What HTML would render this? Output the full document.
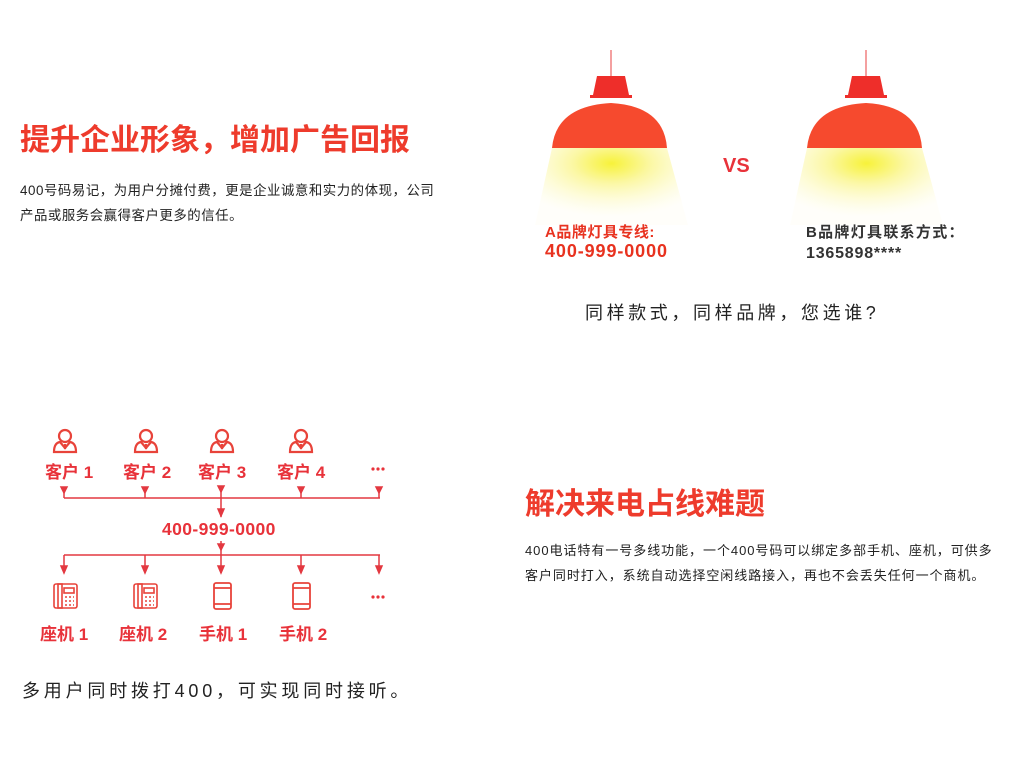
<!DOCTYPE html>
<html><head><meta charset="utf-8"><style>
body{margin:0;width:1023px;height:765px;background:#fff;position:relative;overflow:hidden;font-family:"Liberation Sans","Noto Sans CJK SC",sans-serif}
.a{position:absolute;white-space:nowrap}
.t{color:#ee3b2c;font-weight:bold;font-size:30px;line-height:34px}
.r{color:#e8323a;font-weight:bold}
.lb{font-size:17px}
</style></head><body>
<div class="a t" style="left:20px;top:124px">提升企业形象，增加广告回报</div>
<div class="a" style="left:20px;top:178px;font-size:13.4px;line-height:25px;color:#222;letter-spacing:0.55px">400号码易记，为用户分摊付费，更是企业诚意和实力的体现，公司<br>产品或服务会赢得客户更多的信任。</div>

<svg class="a" style="left:0;top:0" width="1023" height="765">
<defs>
<radialGradient id="g" cx="0.5" cy="0.2" r="0.7"><stop offset="0" stop-color="#f7f23a"/><stop offset="0.35" stop-color="#fbf7a0"/><stop offset="1" stop-color="#fffdf0" stop-opacity="0.3"/></radialGradient>
</defs>
<g id="L">
<line x1="611" y1="50" x2="611" y2="76" stroke="#f08080" stroke-width="1.5"/>
<polygon points="597,76 625,76 629,95 593,95" fill="#ee2e2a"/>
<rect x="590" y="95" width="42" height="3" fill="#ee2e2a"/>
<polygon points="552,148 667,148 688,225 535,225" fill="url(#g)"/>
<path d="M552,148 Q556,106 611,103 Q664,106 667,148 Z" fill="#f64a2e"/>
</g>
<use href="#L" x="255"/>
<line x1="64" y1="498" x2="380" y2="498" stroke="#e33840" stroke-width="1.5"/>
<line x1="64" y1="555" x2="380" y2="555" stroke="#e33840" stroke-width="1.5"/>
<g stroke="#e33840" stroke-width="1.5" fill="#e33840">
<line x1="64" y1="488" x2="64" y2="498"/><polygon points="61,487 67,487 64,493"/>
<line x1="145" y1="488" x2="145" y2="498"/><polygon points="142,487 148,487 145,493"/>
<line x1="301" y1="488" x2="301" y2="498"/><polygon points="298,487 304,487 301,493"/>
<line x1="379" y1="488" x2="379" y2="498"/><polygon points="376,487 382,487 379,493"/>
<line x1="221" y1="486" x2="221" y2="517"/><polygon points="218,486 224,486 221,492"/><polygon points="218,509 224,509 221,516"/>
<line x1="221" y1="541" x2="221" y2="573"/><polygon points="218,544 224,544 221,550"/>
<line x1="64" y1="555" x2="64" y2="572"/><polygon points="61,566 67,566 64,573"/>
<line x1="145" y1="555" x2="145" y2="572"/><polygon points="142,566 148,566 145,573"/>
<polygon points="218,566 224,566 221,573"/>
<line x1="301" y1="555" x2="301" y2="572"/><polygon points="298,566 304,566 301,573"/>
<line x1="379" y1="555" x2="379" y2="572"/><polygon points="376,566 382,566 379,573"/>
</g>
<g id="P" fill="none" stroke="#e8433a" stroke-width="2.2">
<circle cx="65" cy="436" r="6"/><path d="M54,452 Q54,443 60,442 L65,448 L70,442 Q76,443 76,452 Z"/><line x1="65" y1="444" x2="65" y2="449"/>
</g>
<use href="#P" x="81"/><use href="#P" x="157"/><use href="#P" x="236"/>
<g id="T" fill="none" stroke="#e8433a" stroke-width="1.6">
<rect x="54" y="584" width="23" height="24" rx="2"/><rect x="58" y="584" width="4" height="24"/><rect x="64" y="588" width="10" height="5"/>
<path d="M65,597h2M69,597h2M73,597h1M65,601h2M69,601h2M73,601h1M65,605h2M69,605h2M73,605h1"/>
</g>
<use href="#T" x="80"/>
<g id="M" fill="none" stroke="#e8433a" stroke-width="1.8"><rect x="214" y="583" width="17" height="26" rx="2"/><line x1="214" y1="588" x2="231" y2="588"/><line x1="214" y1="604" x2="231" y2="604"/></g>
<use href="#M" x="79"/>
<g fill="#e8323a"><circle cx="373" cy="469" r="1.6"/><circle cx="378" cy="469" r="1.6"/><circle cx="383" cy="469" r="1.6"/>
<circle cx="373" cy="597" r="1.6"/><circle cx="378" cy="597" r="1.6"/><circle cx="383" cy="597" r="1.6"/></g>
</svg>

<div class="a r" style="left:723px;top:155px;font-size:20px">VS</div>
<div class="a r" style="left:545px;top:221px;font-size:15px;color:#e8321f;letter-spacing:0.5px">A品牌灯具专线:</div>
<div class="a r" style="left:545px;top:241px;font-size:18px;color:#e8321f;letter-spacing:0.9px">400-999-0000</div>
<div class="a" style="left:806px;top:221px;font-size:15px;font-weight:bold;color:#333;letter-spacing:1.3px">B品牌灯具联系方式：</div>
<div class="a" style="left:806px;top:245px;font-size:16px;font-weight:bold;color:#333;letter-spacing:0.8px">1365898****</div>
<div class="a" style="left:585px;top:299px;font-size:18px;color:#222;letter-spacing:3.6px">同样款式，同样品牌，您选谁?</div>

<div class="a r lb" style="left:45px;top:458px">客户 1</div>
<div class="a r lb" style="left:123px;top:458px">客户 2</div>
<div class="a r lb" style="left:198px;top:458px">客户 3</div>
<div class="a r lb" style="left:277px;top:458px">客户 4</div>
<div class="a r" style="left:162px;top:519px;font-size:17.5px;letter-spacing:0.4px">400-999-0000</div>
<div class="a r lb" style="left:40px;top:620px">座机 1</div>
<div class="a r lb" style="left:119px;top:620px">座机 2</div>
<div class="a r lb" style="left:199px;top:620px">手机 1</div>
<div class="a r lb" style="left:279px;top:620px">手机 2</div>
<div class="a" style="left:22px;top:677px;font-size:18px;color:#222;letter-spacing:3.8px">多用户同时拨打400，可实现同时接听。</div>

<div class="a t" style="left:525px;top:488px">解决来电占线难题</div>
<div class="a" style="left:525px;top:538px;font-size:13px;line-height:25px;color:#222;letter-spacing:0.95px">400电话特有一号多线功能，一个400号码可以绑定多部手机、座机，可供多<br>客户同时打入，系统自动选择空闲线路接入，再也不会丢失任何一个商机。</div>
</body></html>
